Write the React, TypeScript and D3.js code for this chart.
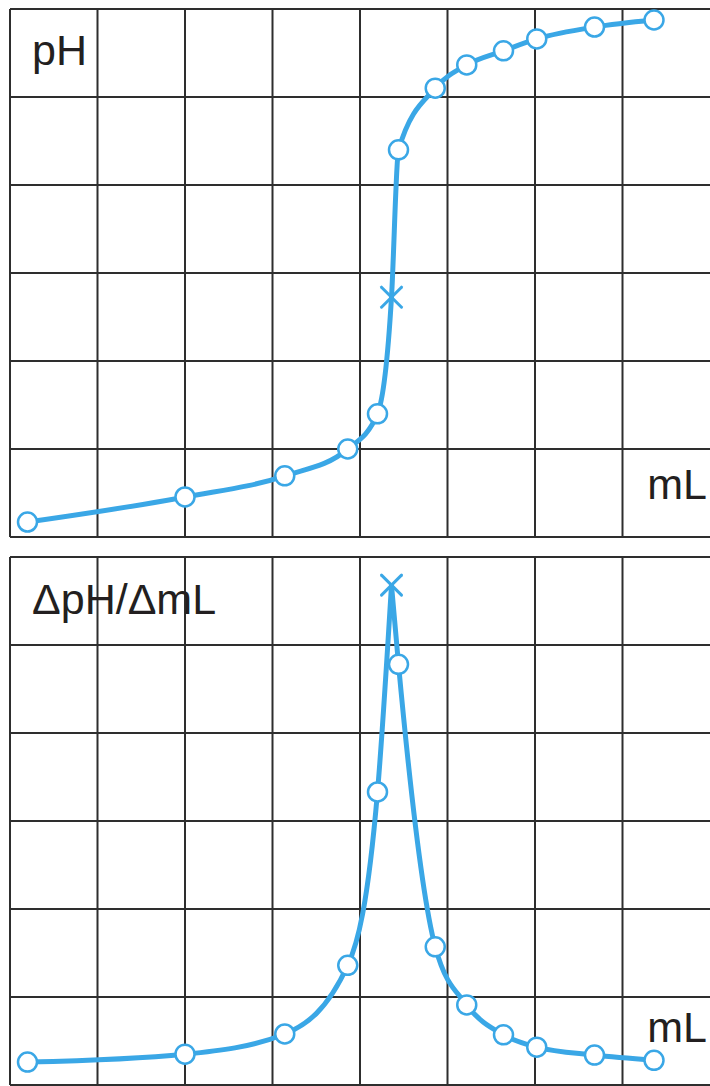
import React from "react";
import * as d3 from "d3";

// Titrant volume (mL) for each reading
const volume = [1, 10, 15.7, 19.3, 21.0, 21.8, 22.2, 24.3, 26.1, 28.2, 30.1, 33.4, 36.8];
// Measured pH
const pH = [1.34, 1.91, 2.39, 3.0, 3.8, 6.45, 9.8, 11.2, 11.73, 12.05, 12.32, 12.59, 12.75];
// First derivative ΔpH/ΔmL
const dpH = [0.26, 0.35, 0.58, 1.36, 3.33, 5.68, 4.78, 1.57, 0.91, 0.57, 0.43, 0.34, 0.28];
// Index of the equivalence point (drawn as a cross)
const equivalenceIndex = 5;

const volumeTicks = [0, 5, 10, 15, 20, 25, 30, 35];
const pHTicks = [1, 3, 5, 7, 9, 11, 13];
const dpHTicks = [0, 1, 2, 3, 4, 5, 6];

const W = 710;
const H = 1086;
const BLUE = "#3aa7e6";
const GRID = "#2e2e2e";
const FONT = "'Liberation Sans', Arial, Helvetica, sans-serif";

type Pt = { x: number; y: number };

function Panel({
  values,
  yDomain,
  yRange,
  yTicks,
  title,
  titleY,
  unitY,
  peak,
}: {
  values: number[];
  yDomain: [number, number];
  yRange: [number, number];
  yTicks: number[];
  title: string;
  titleY: number;
  unitY: number;
  peak: boolean;
}) {
  const x = d3.scaleLinear().domain([0, 40]).range([10, 710]);
  const y = d3.scaleLinear().domain(yDomain).range(yRange);
  const pts: Pt[] = volume.map((v, i) => ({ x: x(v), y: y(values[i]) }));
  const line = d3
    .line<Pt>()
    .x((d) => d.x)
    .y((d) => d.y)
    .curve(d3.curveMonotoneX);

  // A peak is drawn as two monotone pieces so the apex stays pointed
  const paths = peak
    ? [pts.slice(0, equivalenceIndex + 1), pts.slice(equivalenceIndex)]
    : [pts];

  const [y0, y1] = yRange;
  return (
    <g>
      {volumeTicks.map((t) => (
        <line key={"v" + t} x1={x(t)} x2={x(t)} y1={y1} y2={y0} stroke={GRID} strokeWidth={2} />
      ))}
      {yTicks.map((t) => (
        <line key={"h" + t} x1={x(0)} x2={W} y1={y(t)} y2={y(t)} stroke={GRID} strokeWidth={2} />
      ))}
      <text x={32} y={titleY} fontFamily={FONT} fontSize={43} fill="#231f20">
        {title}
      </text>
      <text x={707} y={unitY} textAnchor="end" fontFamily={FONT} fontSize={43} fill="#231f20">
        mL
      </text>
      {paths.map((p, i) => (
        <path key={i} d={line(p) || ""} fill="none" stroke={BLUE} strokeWidth={5} strokeLinejoin="round" />
      ))}
      {pts.map((p, i) =>
        i === equivalenceIndex ? (
          <g key={i} stroke={BLUE} strokeWidth={3} strokeLinecap="round">
            <line x1={p.x - 10} y1={p.y - 10} x2={p.x + 10} y2={p.y + 10} />
            <line x1={p.x - 10} y1={p.y + 10} x2={p.x + 10} y2={p.y - 10} />
          </g>
        ) : (
          <circle key={i} cx={p.x} cy={p.y} r={9.5} fill="#ffffff" stroke={BLUE} strokeWidth={2.5} />
        )
      )}
    </g>
  );
}

export default function App() {
  return (
    <svg
      width={W}
      height={H}
      viewBox={`0 0 ${W} ${H}`}
      style={{ position: "absolute", left: 0, top: 0, background: "#ffffff" }}
    >
      <rect width={W} height={H} fill="#ffffff" />
      <Panel
        values={pH}
        yDomain={[1, 13]}
        yRange={[537, 9]}
        yTicks={pHTicks}
        title="pH"
        titleY={65}
        unitY={499}
        peak={false}
      />
      <Panel
        values={dpH}
        yDomain={[0, 6]}
        yRange={[1085, 557]}
        yTicks={dpHTicks}
        title="ΔpH/ΔmL"
        titleY={614}
        unitY={1042}
        peak={true}
      />
    </svg>
  );
}
